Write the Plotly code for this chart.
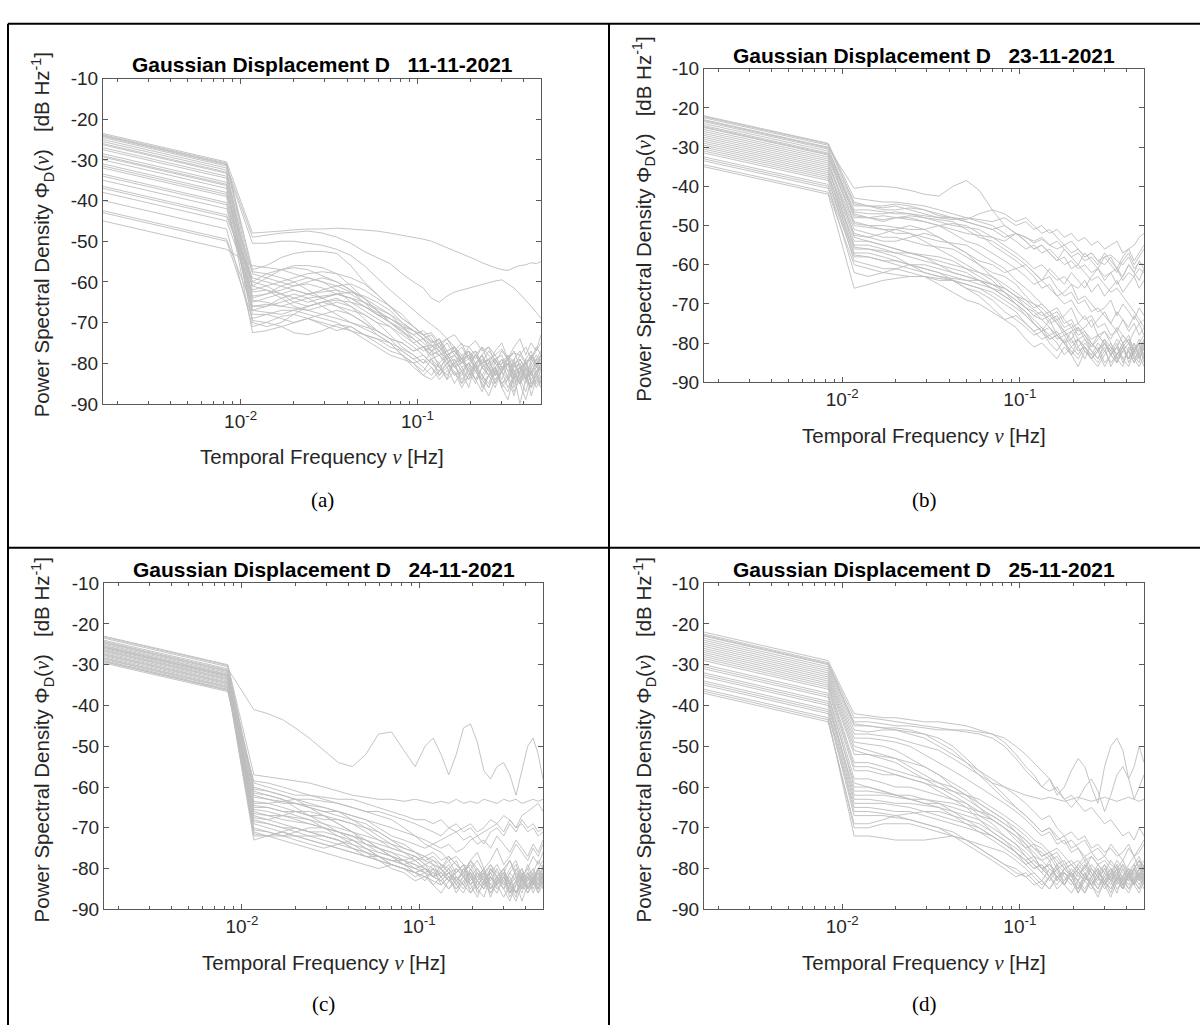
import math
import plotly.graph_objects as go

W, H = 1200, 1036

# ---------------- data ----------------
FREQ = [0.001667, 0.00833, 0.01167, 0.014, 0.017, 0.02, 0.024, 0.029, 0.035, 0.042,
        0.05, 0.059, 0.07, 0.082, 0.095, 0.108, 0.12, 0.133, 0.147, 0.162,
        0.178, 0.195, 0.213, 0.232, 0.253, 0.275, 0.3, 0.325, 0.352, 0.38,
        0.41, 0.44, 0.47, 0.5]

PSD_A = [
    [-23.5,-30.5,-48,-47.8,-47.5,-47.2,-47,-47,-46.8,-47,-47.2,-47.5,-48,-48.5,-49,-49.5,-50,-50.8,-51.5,-52.3,-53,-53.8,-54.5,-55.3,-56,-56.5,-57,-57.2,-56.5,-56,-55.8,-55.3,-55.5,-55],
    [-24.5,-31.5,-49,-48.5,-48,-47.8,-47.5,-48,-49,-50.5,-52.5,-54,-55.5,-58,-60,-61.5,-64,-65,-63.5,-62.5,-62,-61.5,-61,-60.5,-60.2,-59.8,-59.5,-60.5,-61.5,-63,-64.5,-66,-67.5,-69],
    [-25,-32,-50.5,-50.5,-50,-50,-50.5,-51,-52,-53.5,-56,-59,-62,-64.5,-67,-69,-70.5,-72,-74,-73,-75.5,-76,-74.5,-77,-76,-78,-76.5,-79,-77.5,-78,-80,-78.5,-79.5,-78],
    [-23.8,-30.8,-57,-56,-54,-53,-52.5,-52.5,-53,-56,-60,-63,-66,-69,-71,-73,-75,-74,-77,-76,-79,-77,-80,-78,-81,-79,-78,-82,-80,-79,-81,-78,-80,-79],
    [-24.2,-31.2,-60,-58,-57,-56.5,-57,-58.5,-60,-62,-65,-68,-70,-72.5,-74,-76,-75.5,-78,-77,-80,-79,-82,-80,-78,-81,-83,-80,-79,-82,-81,-84,-80,-82,-81],
    [-25.5,-32.5,-62,-61,-60,-59,-58,-57.5,-58,-59,-60.5,-63,-66,-68,-71,-73,-74.5,-76,-74,-77,-79,-76,-78,-80,-77,-79,-82,-78,-80,-83,-79,-77,-81,-78],
    [-26.3,-33.3,-63.5,-63,-62,-61,-60.5,-61.5,-63,-64,-66,-68,-70,-71.5,-73,-72,-74,-77,-75,-78,-80,-79,-77,-81,-80,-82,-79,-84,-81,-80,-83,-82,-80,-81],
    [-27.5,-34.5,-65,-64,-63,-62,-63,-64,-63,-62.5,-63.5,-65,-67,-70,-72,-74,-76,-75,-78,-77,-80,-78,-81,-83,-80,-79,-82,-80,-85,-82,-80,-83,-81,-82],
    [-28.5,-35.5,-66,-65.5,-66,-65,-64,-63.5,-63,-64,-66,-68,-69,-71,-73,-75,-77,-76,-79,-78,-81,-80,-82,-79,-81,-84,-82,-80,-83,-85,-81,-84,-82,-80],
    [-29.3,-36.3,-67,-67.5,-68,-67,-66,-65,-64.5,-65,-66,-67.5,-69,-70.5,-72,-74,-75.5,-77,-80,-78,-76,-79,-81,-80,-83,-81,-79,-82,-84,-81,-83,-86,-82,-81],
    [-30,-37,-68,-68,-69,-70,-69,-68,-67,-68,-70,-72,-74,-75,-77,-76,-78,-80,-78,-81,-83,-80,-82,-84,-81,-85,-82,-80,-83,-81,-84,-82,-85,-83],
    [-31,-38,-69.5,-70,-71,-70,-69,-70.5,-72,-71,-73,-74,-76,-77,-79,-78,-80,-81,-79,-83,-82,-84,-80,-86,-83,-81,-85,-84,-88,-82,-84,-86,-83,-85],
    [-32,-39,-72.5,-72,-71,-72.5,-73,-72,-70.5,-71,-73,-75,-77,-78,-80,-79,-81,-83,-80,-82,-85,-81,-84,-83,-86,-82,-85,-87,-83,-90,-84,-82,-86,-84],
    [-33.5,-40.5,-61,-59,-57,-56,-56,-56.5,-58,-61,-64,-67,-69,-71,-72,-74,-73,-76,-78,-77,-79,-81,-78,-80,-82,-79,-81,-80,-83,-79,-82,-80,-78,-80],
    [-35,-42,-64.5,-65,-66,-66.5,-67,-68,-69,-70,-71.5,-73,-75,-78,-81,-83,-84,-82,-80,-83,-81,-84,-82,-85,-83,-81,-86,-84,-82,-85,-83,-86,-84,-82],
    [-36.5,-43.5,-59,-60,-61,-62,-63,-62,-61,-60.5,-62,-64,-66,-69,-71,-73,-75,-74,-77,-76,-79,-78,-77,-80,-79,-78,-81,-80,-79,-77,-80,-79,-81,-78],
    [-38,-45,-62.5,-62,-63,-64,-65,-64,-63,-64,-65,-66.5,-68,-70,-72,-73,-72.5,-75,-74,-76,-78,-77,-79,-76,-78,-80,-77,-79,-81,-78,-76,-79,-77,-75],
    [-40,-47,-71,-70,-68.5,-68,-69,-70,-71,-72,-73,-74,-75,-76.5,-78,-80,-79,-81,-83,-80,-84,-82,-85,-81,-83,-86,-82,-84,-80,-83,-85,-81,-83,-80],
    [-42.5,-49.5,-66,-66,-65,-64,-63,-62.5,-62,-63,-65,-67,-70,-72,-74,-76,-77,-78,-80,-79,-82,-80,-78,-81,-83,-80,-82,-79,-84,-81,-80,-83,-79,-82],
    [-45,-52,-56,-56.5,-57,-58,-59,-60,-61,-62.5,-64,-66,-68,-71,-74,-76,-78,-77,-79,-81,-80,-78,-82,-80,-79,-83,-81,-80,-82,-84,-80,-78,-81,-79],
    [-24,-31,-58,-59,-60,-61,-60,-59,-60,-62,-64,-67,-70,-72,-75,-74,-77,-75,-79,-76,-80,-77,-81,-78,-76,-80,-82,-79,-77,-81,-84,-79,-76,-78],
    [-26,-33,-61,-62,-64,-66,-67,-66,-65,-66,-68,-70,-73,-76,-78,-80,-77,-81,-84,-79,-82,-86,-80,-83,-85,-81,-84,-80,-86,-82,-79,-85,-83,-81],
    [-27,-34,-64,-63,-61,-60,-59,-60,-62,-65,-67,-69,-71,-74,-76,-78,-80,-82,-78,-81,-79,-83,-80,-78,-82,-85,-81,-83,-79,-84,-87,-82,-80,-84],
    [-29,-36,-70,-71,-70,-68,-66,-65,-66,-68,-70,-73,-75,-78,-80,-82,-79,-83,-81,-85,-82,-80,-84,-87,-83,-81,-86,-89,-83,-85,-82,-88,-84,-86],
    [-31.5,-38.5,-57.5,-58,-59,-60,-62,-64,-66,-67,-68,-70,-71,-73,-75,-77,-76,-74,-78,-77,-75,-79,-78,-76,-80,-77,-75,-79,-76,-74,-78,-75,-77,-73],
    [-34,-41,-67,-66,-64,-63,-64,-66,-68,-70,-71,-72,-74,-77,-79,-81,-83,-80,-84,-82,-86,-83,-81,-85,-88,-84,-82,-86,-83,-85,-89,-84,-82,-85],
    [-37,-44,-60,-61,-63,-65,-66,-65,-64,-66,-69,-72,-74,-75,-77,-76,-79,-78,-81,-80,-78,-82,-84,-81,-79,-83,-80,-78,-82,-80,-84,-81,-79,-77],
    [-43,-50,-69,-68,-67,-67,-68,-69,-70,-72,-74,-76,-78,-79,-80,-83,-81,-84,-82,-80,-85,-83,-81,-84,-86,-82,-85,-83,-87,-84,-81,-85,-83,-86],
]

PSD_B = [
    [-23,-30,-40.5,-40,-40,-40.3,-41,-42,-42.5,-40,-38.5,-41,-46,-50,-52,-53,-54.5,-53.5,-55,-56,-55,-57,-56,-58,-57,-59,-58,-57.5,-59,-60,-58,-61,-59.5,-60],
    [-22,-29,-43,-43.5,-44,-44,-44.5,-45,-46,-47,-48,-48.5,-49,-48,-50,-49,-51,-50,-52,-51,-53,-52,-54,-53,-55,-54,-56,-55,-54,-57,-56,-55,-53,-52],
    [-22.5,-29.5,-44,-45,-45.5,-45,-46,-47,-48,-48.5,-48,-49,-50,-52,-54,-56,-55,-57,-56,-58,-60,-59,-61,-60,-62,-61,-63,-62,-61,-64,-62,-63,-61,-62],
    [-23.5,-30.5,-45,-45,-45,-44.5,-45,-46,-47.5,-48,-49,-50,-51,-50,-52,-53,-54,-53,-55,-54,-56,-58,-57,-59,-58,-60,-57,-59,-61,-58,-56,-59,-57,-55],
    [-24,-31,-46,-46,-46.5,-47,-47,-47.5,-48,-48,-48.5,-47,-46,-47,-49,-48,-50,-52,-51,-53,-55,-54,-56,-58,-57,-59,-60,-58,-61,-63,-60,-62,-59,-61],
    [-24.5,-31.5,-46.5,-47,-47,-46.5,-47,-48,-49,-50,-50.5,-51,-53,-55,-57,-59,-61,-60,-62,-64,-63,-65,-66,-64,-67,-65,-68,-66,-64,-67,-65,-63,-66,-64],
    [-25,-32,-47,-48,-49,-48,-47.5,-48,-48.5,-49,-51,-53,-54,-56,-58,-60,-62,-64,-63,-66,-68,-67,-70,-69,-72,-71,-73,-75,-72,-74,-77,-75,-78,-76],
    [-25.5,-32.5,-48,-48,-47.5,-48,-48.5,-49,-50,-51,-52,-52.5,-53,-54,-52,-54,-56,-55,-57,-59,-58,-61,-60,-62,-64,-63,-65,-67,-66,-68,-70,-72,-74,-76],
    [-26,-33,-49,-50,-50,-50.5,-51,-51,-50,-49.5,-50,-52,-55,-57,-59,-61,-63,-66,-65,-68,-70,-69,-72,-74,-73,-76,-75,-78,-77,-80,-79,-82,-80,-78],
    [-27,-34,-50,-50.5,-51,-52,-52,-53,-54,-54.5,-55,-57,-59,-61,-64,-66,-68,-70,-72,-71,-74,-76,-75,-77,-79,-78,-80,-82,-79,-81,-84,-80,-83,-79],
    [-27.5,-34.5,-51,-52,-53,-53,-54,-55,-55.5,-56,-58,-60,-62,-63,-65,-68,-70,-72,-74,-73,-76,-75,-78,-77,-80,-82,-79,-81,-83,-80,-85,-82,-80,-84],
    [-28.5,-35.5,-52,-53,-54,-54,-53,-52,-53,-55,-57,-59,-60,-62,-61,-63,-65,-64,-66,-68,-67,-65,-69,-68,-70,-72,-71,-69,-73,-70,-72,-74,-71,-73],
    [-29,-36,-53,-54,-55,-56,-57,-57.5,-58,-59,-61,-63,-65,-67,-69,-71,-72,-74,-73,-75,-78,-77,-76,-79,-81,-78,-80,-82,-84,-81,-79,-83,-80,-82],
    [-30,-37,-54,-54,-55,-56,-57,-58,-60,-62,-63,-64,-66,-68,-70,-73,-75,-77,-76,-79,-78,-81,-83,-80,-82,-84,-81,-86,-83,-80,-82,-85,-81,-83],
    [-30.5,-37.5,-55,-55,-56,-57,-57,-58,-59,-60,-61,-62,-63,-65,-67,-69,-70,-71,-73,-72,-75,-74,-77,-76,-74,-78,-77,-79,-76,-78,-80,-77,-75,-78],
    [-31.5,-38.5,-56,-56,-56.5,-57,-58,-59,-60,-61,-62,-64,-66,-68,-70,-72,-74,-76,-78,-77,-80,-79,-82,-81,-83,-85,-82,-80,-84,-86,-81,-83,-85,-80],
    [-32.5,-39.5,-57,-57,-58,-59,-60,-61,-62,-63,-64,-64,-65,-66,-68,-70,-71.5,-73,-72,-75,-77,-76,-79,-78,-80,-82,-79,-83,-81,-78,-80,-84,-82,-79],
    [-33.5,-40.5,-58,-58,-59,-60,-61,-62,-63,-63.5,-64,-65,-66,-67,-69,-71,-73,-74,-76,-78,-77,-80,-79,-81,-84,-82,-80,-83,-85,-82,-84,-81,-83,-86],
    [-34.5,-41.5,-60,-61,-62,-62.5,-63,-63,-64,-64,-65,-66,-68,-70,-72,-75,-77,-79,-78,-80,-83,-81,-79,-82,-84,-86,-83,-81,-85,-82,-80,-84,-86,-83],
    [-35,-42,-66,-65,-64,-63.5,-63,-63,-63.5,-64,-65,-66,-67,-69,-71,-73,-75,-77,-79,-78,-80,-82,-84,-81,-83,-80,-82,-85,-83,-81,-84,-82,-80,-83],
    [-22.2,-29.2,-44.5,-45,-46,-46,-45.5,-46,-47,-48,-49,-50,-51,-53,-52,-54,-56,-55,-57,-59,-56,-58,-60,-57,-59,-61,-58,-60,-62,-59,-57,-60,-58,-56],
    [-23.2,-30.2,-47.5,-48,-48.5,-48,-48,-49,-50,-52,-54,-55,-57,-59,-61,-60,-62,-64,-61,-63,-65,-62,-64,-66,-63,-61,-64,-62,-65,-63,-60,-62,-64,-61],
    [-24.8,-31.8,-49.5,-50,-51,-51,-50,-51,-53,-55,-57,-60,-63,-66,-68,-71,-73,-72,-75,-74,-77,-79,-76,-78,-81,-79,-77,-80,-83,-80,-78,-82,-79,-81],
    [-26.5,-33.5,-52.5,-53,-52,-51,-52,-54,-56,-58,-60,-62,-64,-67,-70,-72,-75,-77,-74,-78,-80,-77,-81,-79,-82,-84,-80,-83,-81,-85,-82,-80,-84,-81],
    [-28,-35,-55.5,-56,-57,-58,-60,-62,-63,-64,-66,-67,-69,-72,-74,-76,-78,-77,-80,-82,-79,-83,-81,-84,-80,-82,-86,-83,-81,-84,-82,-85,-83,-80],
    [-29.5,-36.5,-57.5,-58,-59,-59,-60,-61,-62,-64,-66,-68,-71,-74,-73,-75,-77,-76,-79,-78,-80,-83,-79,-81,-84,-82,-80,-83,-85,-81,-84,-82,-80,-85],
    [-31,-38,-59,-60,-61,-61,-62,-63,-65,-67,-69,-70,-72,-74,-76,-79,-81,-80,-82,-84,-81,-83,-86,-82,-84,-81,-85,-83,-80,-84,-86,-82,-84,-81],
    [-33,-40,-62,-63,-62,-61,-60,-60,-61,-62,-63,-64,-65,-66,-68,-69,-71,-70,-72,-74,-73,-71,-75,-73,-76,-74,-72,-75,-77,-74,-76,-73,-75,-74],
]

PSD_C = [
    [-24,-31,-41,-42,-43.5,-45.5,-48,-51,-54,-55,-52,-47,-46.5,-51,-55,-50,-48,-52,-57,-52,-45.5,-44.5,-49,-56,-58,-55,-54,-57,-62,-56,-50,-48,-52,-58],
    [-23,-30,-57,-57.5,-58,-58.5,-59,-60,-61,-62,-62.5,-63,-63,-63.5,-63,-63.5,-64,-63.5,-64,-63,-64,-63.5,-64,-63,-63.5,-64,-63,-63.5,-63,-64,-63.5,-63,-63.5,-63],
    [-25,-32,-59,-60,-61,-62,-62,-62.5,-63,-63,-64,-65,-66,-67,-68,-68,-69,-68,-70,-69,-71,-70,-72,-71,-70,-69,-71,-68,-70,-67,-66,-65,-64,-66],
    [-23.5,-30.5,-60,-61,-62,-63,-64,-65,-66,-67,-68,-70,-72,-73,-74,-75,-74,-73,-72,-71,-70,-69,-71,-70,-68,-69,-67,-68,-70,-69,-71,-70,-72,-71],
    [-24.3,-31.3,-61,-62,-63,-64,-64.5,-65,-66,-68,-70,-72,-74,-76,-77,-78,-79,-80,-78,-81,-79,-82,-80,-83,-81,-79,-82,-84,-80,-83,-81,-85,-82,-80],
    [-24.7,-31.7,-62,-63,-64,-64,-65,-66,-67,-68,-69,-71,-73,-75,-76,-77,-78,-79,-81,-80,-82,-78,-81,-83,-80,-82,-84,-81,-79,-83,-85,-82,-80,-82],
    [-25.3,-32.3,-63.5,-64,-65,-66,-67,-68,-68,-69,-70,-71,-73,-74,-76,-78,-77,-79,-80,-78,-82,-81,-83,-80,-84,-82,-85,-81,-83,-86,-82,-84,-81,-83],
    [-25.7,-32.7,-65,-65,-66,-66,-67,-67,-68,-69,-71,-73,-75,-76,-77,-79,-80,-81,-79,-82,-84,-80,-83,-85,-81,-84,-82,-86,-83,-81,-85,-83,-80,-84],
    [-26,-33,-66,-67,-68,-68.5,-69,-70,-71,-72,-73,-74,-75,-76,-78,-77,-79,-80,-82,-81,-79,-83,-81,-84,-80,-82,-85,-83,-81,-84,-82,-86,-83,-81],
    [-26.3,-33.3,-67,-68,-69,-70,-71,-71,-72,-73,-74,-75,-76,-77,-78,-80,-81,-82,-80,-83,-85,-81,-84,-82,-86,-83,-81,-84,-87,-82,-85,-83,-80,-82],
    [-26.7,-33.7,-68,-69,-70,-70,-71,-72,-73,-74,-75,-76,-77,-78,-79,-81,-82,-83,-81,-84,-82,-85,-83,-81,-84,-86,-82,-85,-83,-88,-84,-82,-85,-81],
    [-27,-34,-69,-70,-71,-72,-72,-73,-74,-75,-76,-78,-79,-80,-81,-80,-82,-81,-83,-82,-84,-80,-83,-85,-82,-84,-81,-83,-86,-84,-82,-80,-83,-79],
    [-27.3,-34.3,-70,-71,-72,-72,-73,-74,-75,-76,-77,-77,-78,-79,-80,-81,-80,-82,-81,-83,-80,-84,-82,-81,-85,-83,-80,-84,-82,-85,-81,-83,-86,-82],
    [-27.7,-34.7,-71,-72,-73,-74,-75,-76,-77,-78,-79,-80,-79,-80,-81,-82,-83,-84,-82,-85,-83,-81,-86,-84,-82,-85,-83,-87,-84,-82,-85,-83,-81,-84],
    [-28,-35,-72,-72,-71,-72,-73,-74,-75,-76,-77,-78,-79,-80,-81,-82,-81,-83,-85,-82,-84,-86,-83,-85,-82,-84,-87,-84,-86,-83,-85,-82,-84,-80],
    [-28.3,-35.3,-73,-72,-71,-70,-71,-72,-73,-75,-76,-77,-78,-78,-79,-80,-82,-81,-83,-80,-82,-84,-81,-83,-85,-82,-80,-84,-82,-85,-83,-81,-84,-82],
    [-28.7,-35.7,-58.5,-59,-60,-61,-62,-63,-64,-65,-66,-66,-67,-68,-69,-70,-71,-72,-70,-71,-73,-72,-74,-73,-75,-72,-74,-76,-73,-75,-77,-74,-76,-73],
    [-29,-36,-64,-64,-63.5,-63,-63,-63.5,-64,-65,-66,-67,-68,-70,-72,-74,-75,-76,-78,-77,-79,-80,-78,-81,-79,-82,-80,-78,-81,-83,-79,-82,-80,-78],
    [-29.3,-36.3,-66.5,-67,-67,-67.5,-68,-69,-70,-71,-72,-73,-74,-75,-76,-77,-76,-78,-77,-79,-81,-78,-80,-82,-79,-81,-83,-80,-78,-82,-80,-77,-79,-76],
    [-29.6,-36.6,-62.5,-63,-63.5,-64,-65,-66,-66,-67,-68,-69,-70,-71,-72,-73,-74,-75,-74,-76,-75,-73,-72,-74,-71,-70,-72,-69,-71,-68,-70,-69,-71,-70],
    [-23.2,-30.2,-60.5,-61,-62,-63,-65,-67,-69,-71,-73,-75,-77,-78,-80,-79,-82,-80,-83,-81,-79,-84,-82,-80,-85,-83,-81,-84,-86,-82,-80,-83,-85,-81],
    [-24.5,-31.5,-64.5,-65,-66,-67,-68,-70,-72,-74,-76,-77,-79,-80,-81,-83,-80,-84,-82,-86,-83,-81,-85,-87,-82,-84,-81,-86,-83,-80,-84,-82,-85,-83],
    [-25.5,-32.5,-67.5,-68,-67,-66,-66,-67,-69,-71,-74,-76,-77,-79,-78,-80,-82,-79,-81,-84,-80,-82,-85,-81,-83,-80,-84,-82,-86,-83,-81,-84,-80,-83],
    [-26.5,-33.5,-70.5,-71,-72,-73,-74,-75,-74,-73,-75,-77,-79,-80,-82,-81,-84,-82,-85,-83,-81,-86,-84,-82,-87,-83,-85,-88,-84,-82,-86,-84,-82,-85],
    [-27.5,-34.5,-61.5,-62,-63,-65,-67,-69,-71,-72,-74,-75,-76,-78,-77,-79,-78,-80,-77,-79,-81,-78,-76,-80,-78,-75,-79,-77,-74,-76,-78,-75,-77,-74],
    [-28.5,-35.5,-68.5,-69,-70,-71,-72,-72,-73,-75,-77,-78,-80,-81,-83,-82,-84,-86,-83,-85,-82,-84,-87,-83,-86,-84,-82,-85,-88,-84,-86,-83,-85,-82],
    [-29.2,-36.2,-65.5,-66,-67,-68,-69,-70,-71,-72,-73,-75,-77,-79,-80,-81,-79,-82,-80,-83,-81,-79,-82,-84,-80,-83,-81,-78,-82,-80,-83,-81,-78,-80],
    [-25.8,-32.8,-71.5,-72,-72,-71,-70,-70,-71,-73,-75,-77,-78,-79,-81,-80,-82,-83,-81,-84,-86,-82,-85,-83,-81,-84,-82,-86,-84,-81,-85,-83,-86,-84],
]

PSD_D = [
    [-22,-29,-42,-42.5,-43,-43,-43.5,-44,-44,-44.5,-45,-46,-47,-49,-52,-55,-57,-60,-58,-61,-63,-62,-64,-66,-65,-67,-69,-68,-70,-72,-71,-73,-70,-72],
    [-22.5,-29.5,-43,-43,-43.5,-44,-44.5,-45,-45.5,-46,-46,-46.5,-47,-48,-50,-52,-54,-56,-58,-62,-60,-56,-53,-55,-60,-64,-55,-50,-48,-51,-58,-55,-50,-54],
    [-23,-30,-44,-44,-44.5,-45,-45,-45.5,-46,-46,-46.5,-47,-48,-50,-53,-56,-58,-60,-61,-60,-63,-65,-63,-60,-58,-61,-66,-62,-57,-55,-58,-63,-60,-57],
    [-23.5,-30.5,-45,-45,-45.5,-46,-47,-48,-50,-52,-54,-56,-58,-60,-62,-64,-66,-68,-67,-70,-72,-71,-73,-72,-75,-74,-76,-75,-77,-76,-74,-77,-75,-73],
    [-24,-31,-46,-46.5,-46,-46,-46.5,-47,-48,-50,-53,-56,-59,-62,-65,-67,-69,-71,-70,-72,-74,-73,-75,-77,-76,-78,-77,-79,-80,-78,-81,-79,-77,-80],
    [-24.5,-31.5,-47,-47,-47.5,-48,-49,-50,-51,-53,-55,-57,-59,-60,-61,-62,-62.5,-63,-62.5,-63,-63.5,-63,-62.5,-63,-63.5,-63,-62.5,-63,-63.5,-63,-62.5,-63,-63.5,-63],
    [-25,-32,-48,-48,-48.5,-49,-50,-52,-54,-56,-58,-60,-62,-64,-66,-68,-70,-72,-71,-74,-73,-76,-75,-78,-77,-79,-78,-80,-82,-79,-81,-80,-78,-81],
    [-26,-33,-50,-51,-52,-53,-55,-57,-59,-61,-63,-65,-67,-69,-71,-73,-75,-76,-78,-77,-80,-79,-81,-83,-80,-82,-84,-81,-79,-83,-80,-82,-84,-81],
    [-27,-34,-52,-52,-52.5,-53,-54,-55,-57,-59,-61,-64,-66,-68,-70,-72,-74,-75,-77,-76,-79,-78,-80,-82,-79,-81,-83,-80,-82,-85,-81,-79,-82,-80],
    [-27.5,-34.5,-54,-54,-55,-56,-57,-58,-59,-60,-62,-64,-66,-68,-71,-74,-77,-80,-82,-79,-84,-81,-83,-86,-82,-80,-84,-82,-85,-83,-81,-84,-82,-80],
    [-28.5,-35.5,-56,-56,-57,-57,-58,-59,-60,-61,-62,-63,-65,-67,-69,-71,-73,-74,-76,-75,-77,-79,-78,-80,-77,-79,-81,-78,-80,-82,-79,-77,-80,-78],
    [-29,-36,-58,-58,-59,-60,-60,-61,-62,-63,-64,-66,-68,-70,-72,-75,-77,-78,-80,-82,-81,-83,-85,-82,-84,-81,-83,-86,-82,-84,-81,-83,-80,-82],
    [-30,-37,-60,-60,-61,-62,-63,-63,-63.5,-64,-65,-66,-67,-69,-71,-73,-75,-77,-76,-78,-80,-79,-81,-80,-82,-79,-81,-83,-80,-82,-84,-81,-79,-82],
    [-31,-38,-62,-62,-62,-62.5,-63,-64,-64,-65,-66,-67,-68,-70,-72,-74,-76,-78,-77,-80,-79,-82,-80,-78,-81,-83,-80,-82,-79,-81,-83,-80,-82,-79],
    [-32,-39,-63,-63,-63.5,-64,-64,-64.5,-65,-66,-67,-68,-70,-72,-74,-76,-78,-80,-79,-82,-81,-83,-85,-82,-84,-86,-83,-81,-84,-82,-85,-83,-81,-84],
    [-33,-40,-64,-64,-64,-64.5,-65,-66,-67,-68,-69,-70,-72,-74,-76,-79,-81,-83,-80,-82,-84,-81,-83,-85,-82,-80,-83,-85,-82,-84,-81,-83,-85,-82],
    [-34,-41,-65,-65,-65.5,-66,-66,-67,-68,-69,-70,-71,-72,-74,-76,-78,-80,-79,-81,-83,-80,-82,-79,-81,-84,-82,-80,-83,-81,-79,-82,-80,-78,-80],
    [-35,-42,-67,-67,-67,-67.5,-68,-69,-70,-71,-73,-75,-77,-79,-81,-82,-84,-83,-85,-82,-84,-86,-83,-81,-84,-82,-85,-83,-80,-84,-82,-81,-83,-79],
    [-36,-43,-72,-72,-72.5,-73,-73,-73,-72.5,-72,-73,-74,-75,-76,-78,-80,-82,-84,-82,-85,-83,-81,-84,-86,-83,-85,-82,-84,-81,-83,-85,-82,-80,-83],
    [-37,-44,-69,-69,-68,-67,-66.5,-66,-66,-67,-68,-69,-71,-73,-75,-77,-79,-81,-83,-80,-82,-84,-81,-83,-80,-82,-84,-81,-83,-80,-82,-84,-81,-83],
    [-22.8,-29.8,-44.5,-45,-45.5,-45.5,-46,-47,-49,-51,-54,-57,-60,-63,-65,-67,-69,-71,-70,-73,-72,-75,-74,-73,-76,-75,-77,-74,-76,-78,-75,-77,-76,-74],
    [-25.5,-32.5,-49,-49.5,-50,-51,-53,-55,-57,-60,-62,-65,-68,-70,-73,-75,-74,-77,-76,-79,-78,-81,-79,-77,-80,-82,-79,-81,-78,-80,-83,-80,-78,-81],
    [-26.5,-33.5,-51,-52,-53,-54,-56,-58,-60,-62,-64,-67,-69,-72,-74,-77,-79,-81,-78,-83,-80,-82,-85,-81,-83,-80,-84,-82,-80,-85,-82,-84,-81,-83],
    [-28,-35,-55,-55,-56,-57,-58,-59,-61,-63,-65,-68,-71,-73,-76,-78,-80,-79,-82,-80,-84,-81,-83,-79,-82,-85,-81,-83,-86,-82,-80,-84,-82,-85],
    [-30.5,-37.5,-59,-60,-61,-62,-63,-64,-65,-67,-69,-71,-73,-75,-77,-79,-78,-80,-82,-79,-81,-83,-80,-82,-84,-81,-79,-83,-81,-84,-82,-80,-83,-81],
    [-32.5,-39.5,-61,-61,-61.5,-62,-62,-63,-64,-66,-68,-70,-72,-74,-76,-78,-77,-80,-79,-81,-83,-80,-82,-79,-81,-84,-82,-80,-83,-85,-81,-83,-80,-82],
    [-34.5,-41.5,-66,-66,-66.5,-67,-68,-69,-70,-72,-74,-76,-78,-80,-82,-81,-83,-85,-82,-84,-81,-83,-86,-82,-84,-87,-83,-85,-82,-84,-86,-83,-85,-82],
    [-36.5,-43.5,-70,-70,-69,-69,-69,-70,-71,-72,-73,-75,-77,-79,-80,-82,-81,-83,-85,-82,-84,-81,-86,-83,-85,-82,-84,-87,-83,-85,-82,-84,-86,-83],
]

DATES = ["11-11-2021", "23-11-2021", "24-11-2021", "25-11-2021"]
TAGS = ["(a)", "(b)", "(c)", "(d)"]
Y_TICKS = [-90, -80, -70, -60, -50, -40, -30, -20, -10]
Y_TICK_TEXT = ["-90", "-80", "-70", "-60", "-50", "-40", "-30", "-20", "-10"]
X_TICKS = [0.01, 0.1]
X_TICK_TEXT = ["10<sup>-2</sup>", "10<sup>-1</sup>"]
X_MINOR = [0.002, 0.003, 0.004, 0.005, 0.006, 0.007, 0.008, 0.009,
           0.02, 0.03, 0.04, 0.05, 0.06, 0.07, 0.08, 0.09,
           0.2, 0.3, 0.4, 0.5]
X_RANGE = [1 / 600, 0.5]
Y_RANGE = [-90, -10]

# ---------------- layout geometry (pixels) ----------------
# (axis left, axis right, axis top, axis bottom, title y, xlabel y, tag y, ylabel x)
GEOM = [
    (103, 541, 70, 402, 56, 456, 500, 42),
    (704, 1144, 60, 380, 46, 434, 500, 644),
    (104, 543, 585, 918, 571, 972, 1015, 42),
    (704, 1144, 585, 918, 571, 972, 1015, 644),
]

SANS = "Liberation Sans, Arial, sans-serif"
SERIF = "Liberation Serif, Times New Roman, serif"
TXT = "#262626"
AX = "#595959"
LINE = "#bdbdbd"
TICK_SIZE = 19
LABEL_SIZE = 20.5
TITLE_SIZE = 21


def px(x):
    return x / W


def py(y):
    return 1 - y / H


fig = go.Figure()
annotations = []
layout = {}
nu = ("<span style=\"font-family:'Liberation Serif',serif;font-size:%spx\"><i>\u03bd</i></span>"
      % LABEL_SIZE)

for i, (data, date, tag, g) in enumerate(zip([PSD_A, PSD_B, PSD_C, PSD_D], DATES, TAGS, GEOM)):
    xl, xr, yt, yb, ty, xly, tgy, ylx = g
    n = "" if i == 0 else str(i + 1)
    for series in data:
        fig.add_trace(go.Scatter(
            x=FREQ[:len(series)], y=series, mode="lines",
            line=dict(color=LINE, width=0.9),
            xaxis="x" + n, yaxis="y" + n, showlegend=False, hoverinfo="skip"))
    layout["xaxis" + n] = dict(
        domain=[px(xl), px(xr)], anchor="y" + n, type="log",
        range=[math.log10(X_RANGE[0]), math.log10(X_RANGE[1])],
        tickmode="array", tickvals=X_TICKS, ticktext=X_TICK_TEXT,
        ticks="inside", ticklen=5, tickcolor=AX, showline=True, linecolor=AX,
        linewidth=1, mirror="ticks", showgrid=False, zeroline=False,
        tickfont=dict(family=SANS, size=TICK_SIZE, color=TXT),
        minor=dict(tickmode="array", tickvals=X_MINOR, ticks="inside",
                   ticklen=3, tickcolor=AX, showgrid=False),
    )
    layout["yaxis" + n] = dict(
        domain=[py(yb), py(yt)], anchor="x" + n, range=Y_RANGE,
        tickmode="array", tickvals=Y_TICKS, ticktext=Y_TICK_TEXT,
        ticks="inside", ticklen=5, tickcolor=AX, showline=True, linecolor=AX,
        linewidth=1, mirror="ticks", showgrid=False, zeroline=False,
        tickfont=dict(family=SANS, size=TICK_SIZE, color=TXT),
    )
    cx = px((xl + xr) / 2)
    annotations.append(dict(
        text="<b>Gaussian Displacement D\u00a0\u00a0\u00a0" + date + "</b>",
        x=cx, y=py(ty), xref="paper", yref="paper", showarrow=False,
        font=dict(family=SANS, size=TITLE_SIZE, color="#000000"),
        xanchor="center", yanchor="middle"))
    annotations.append(dict(
        text="Temporal Frequency " + nu + " [Hz]",
        x=cx, y=py(xly), xref="paper", yref="paper", showarrow=False,
        font=dict(family=SANS, size=LABEL_SIZE, color=TXT),
        xanchor="center", yanchor="middle"))
    annotations.append(dict(
        text="Power Spectral Density \u03a6<sub>D</sub>(" + nu + ")\u00a0\u00a0\u00a0[dB Hz<sup>-1</sup>]",
        x=px(ylx), y=py((yt + yb) / 2 - 6), xref="paper", yref="paper",
        showarrow=False, textangle=-90,
        font=dict(family=SANS, size=LABEL_SIZE, color=TXT),
        xanchor="center", yanchor="middle"))
    annotations.append(dict(
        text=tag, x=cx, y=py(tgy), xref="paper", yref="paper",
        showarrow=False, font=dict(family=SERIF, size=21, color="#000000"),
        xanchor="center", yanchor="middle"))

# table borders
BORDERS = [
    (8, 14, 1200, 14),
    (8, 14, 8, 1036),
    (609, 14, 609, 1036),
    (8, 549, 1200, 549),
]
shapes = [dict(type="line", xref="paper", yref="paper",
               x0=px(a), y0=py(b), x1=px(c), y1=py(d),
               line=dict(color="#000000", width=2)) for a, b, c, d in BORDERS]

fig.update_layout(
    width=W, height=H, margin=dict(l=0, r=0, t=0, b=0),
    paper_bgcolor="white", plot_bgcolor="white",
    annotations=annotations, shapes=shapes, showlegend=False,
    **layout)

fig.write_html("out.html")
